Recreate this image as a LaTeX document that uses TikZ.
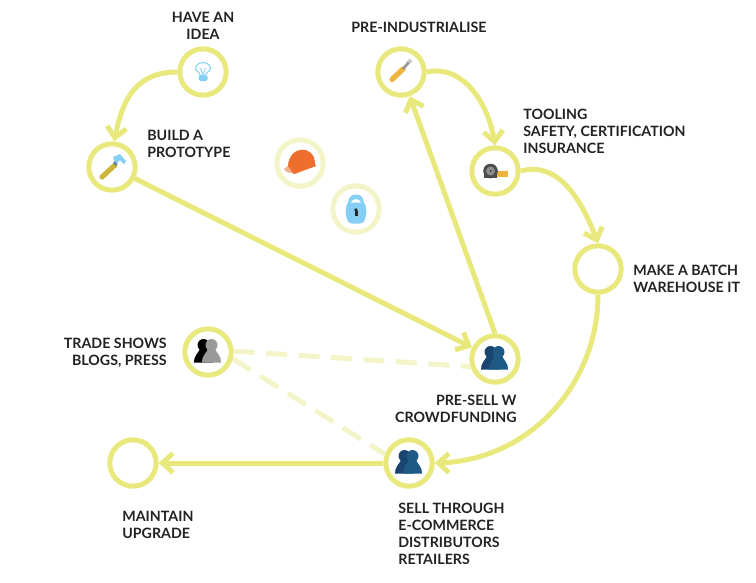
\documentclass[tikz,border=0pt]{standalone}
\usepackage{fontspec}
\setmainfont{Lato}
\usetikzlibrary{arrows.meta, bending}
\definecolor{ringyellow}{HTML}{E8E87C}
\definecolor{ringpale}{HTML}{F3F4C8}
\definecolor{inkdark}{HTML}{222222}
\definecolor{skyblue}{HTML}{85CFF5}
\definecolor{steelblue}{HTML}{1F5A85}
\definecolor{deepblue}{HTML}{1A4570}
\definecolor{helmetorange}{HTML}{EE6F2D}
\definecolor{toolgold}{HTML}{CDB53A}
\definecolor{tapegold}{HTML}{EFB43C}
\tikzset{
  pics/bulb/.style={code={
    \draw[skyblue, line width=0.6pt] (-2.5,4) .. controls (-3,0) and (-7.5,-1) .. (-7.5,-3) .. controls (-7.5,-11.5) and (7.5,-11.5) .. (7.5,-3) .. controls (7.5,-1) and (3,0) .. (2.5,4);
    \draw[skyblue, line width=0.5pt] (-2.5,-4) -- (0,3) -- (2.5,-4);
    \fill[skyblue, rounded corners=1pt] (-4.5,3) rectangle (4.5,9);
  }},
  pics/hammer/.style={code={
    \draw[toolgold, line width=2.9pt, line cap=round] (-10,10) -- (3,-2);
    \fill[skyblue] (1,-10) -- (8,-13) -- (14,-6) -- (12,-3) -- (8,-7) -- (5,-4) -- (2,-7) -- cycle;
    \fill[steelblue!70] (2.5,-6) -- (5.5,-3.5) -- (4,-1) -- (1,-3.5) -- cycle;
  }},
  pics/screwdriver/.style={code={
    \draw[tapegold, line width=3pt, line cap=round] (-9,7.5) -- (2,-3);
    \draw[gray!80, line width=1.6pt] (2,-3) -- (8,-10);
    \draw[gray!40, line width=2.4pt] (8,-10) -- (10,-12);
  }},
  pics/tape/.style={code={
    \fill[tapegold] (2,0) rectangle (13,6);
    \fill[black!70] (-4.5,0) circle (7.3);
    \fill[black!70] (-11.5,1) rectangle (2,7);
    \fill[black!45] (-4.5,0) circle (4.5);
    \fill[black!80] (-4.5,0) circle (1);
  }},
  pics/helmet/.style={code={
    \fill[helmetorange!55] (-16,6) -- (-10,1) -- (-3,11) -- (-9,10) .. controls (-12,10) and (-14,9) .. (-16,6) -- cycle;
    \fill[helmetorange] (-12,3) .. controls (-11,-18) and (15,-19) .. (15,1) -- (16,3) .. controls (8,6) and (0,9) .. (-6,11) .. controls (-9,8) and (-10,5) .. (-12,3) -- cycle;
  }},
  pics/padlock/.style={code={
    \fill[skyblue] (0,-14.5) .. controls (7,-14.5) and (7.5,-9) .. (8,-6) .. controls (12,-2) and (11,14.5) .. (4,14.5) -- (-4,14.5) .. controls (-11,14.5) and (-12,-2) .. (-8,-6) .. controls (-7.5,-9) and (-7,-14.5) .. (0,-14.5) -- cycle;
    \fill[white] (-5,-6.5) .. controls (-3,-11) and (3,-11) .. (5,-6.5) -- cycle;
    \fill[black!85] (0,1) circle (1.8);
    \fill[black!85] (-1.5,2) rectangle (1.5,7);
  }},
  pics/people/.style 2 args={code={
    \foreach \dx/\shade in {-4.5/#1, 3.5/#2} {
      \fill[\shade] (\dx,-7) circle (6);
      \fill[\shade] (\dx-9.5,10.5) .. controls (\dx-10,4) and (\dx-5,1) .. (\dx-3,-4) -- (\dx+3,-4) .. controls (\dx+5,1) and (\dx+10,4) .. (\dx+9.5,10.5) -- cycle;
    }
  }},
}
\begin{document}
\begin{tikzpicture}[
    x=0.02cm, y=-0.02cm,
    stage/.style={circle, draw=#1, line width=2.85pt, minimum size=0.928cm, inner sep=0pt},
    stage/.default=ringyellow,
    flow/.style={ringyellow, line width=2.85pt, -{Straight Barb[length=6pt,width=11pt,flex=0]}},
    hint/.style={ringpale, line width=2.85pt, dash pattern=on 12pt off 6.5pt},
    caption/.style={text=inkdark, inner sep=0pt, font=\bfseries\fontsize{8.1}{9.7}\selectfont}
]
\useasboundingbox (0,0) rectangle (756,582);

% Stages
\node[stage] (idea) at (203,72) {};
\node[stage] (proto) at (112,167) {};
\node[stage] (preind) at (401,72) {};
\node[stage] (tooling) at (495,171) {};
\node[stage] (batch) at (598,269) {};
\node[stage] (presell) at (495,359) {};
\node[stage] (trade) at (208,352) {};
\node[stage] (sell) at (409,463) {};
\node[stage] (maintain) at (133,463) {};
\node[stage=ringpale] (helmet) at (300,163) {};
\node[stage=ringpale] (lock) at (356,209) {};

% Icons
\pic at (idea) {bulb};
\pic at (proto) {hammer};
\pic at (preind) {screwdriver};
\pic at (tooling) {tape};
\pic at (helmet) {helmet};
\pic at (lock) {padlock};
\pic at (presell) {people={deepblue}{steelblue}};
\pic at (sell) {people={deepblue}{steelblue}};
\pic at (trade) {people={black}{gray!80}};

% Main route
\draw[flow] (idea.west) to[out=180, in=80, looseness=1.15] (proto.85);
\draw[flow] (proto) -- (presell);
\draw[flow] (presell.north) -- (preind);
\draw[flow] (preind.east) to[out=12, in=97] (tooling.north);
\draw[flow] (tooling.east) to[out=15, in=110] (batch.north);
\draw[flow] (batch.south) to[out=-90, in=0] (sell.east);
\draw[flow] (sell.west) -- (maintain.east);

% Secondary route
\draw[hint] (trade.2) -- (presell.197);
\draw[hint] (trade.-15) -- (sell.160);

% Labels
\node[caption, align=center] (ideatext) at (203,25.5) {HAVE AN\\IDEA};
\node[caption, align=left, anchor=west] (prototext) at (147,143.5) {BUILD A\\PROTOTYPE};
\node[caption, anchor=west] (preindtext) at (351,27.5) {PRE-INDUSTRIALISE};
\node[caption, align=left, anchor=west] (toolingtext) at (523,131.5) {TOOLING\\SAFETY, CERTIFICATION\\INSURANCE};
\node[caption, align=left, anchor=west] (batchtext) at (633,278.5) {MAKE A BATCH\\WAREHOUSE IT};
\node[caption, align=right, anchor=east] (tradetext) at (167,352.5) {TRADE SHOWS\\BLOGS, PRESS};
\node[caption, align=right, anchor=east] (preselltext) at (517,408.5) {PRE-SELL W\\CROWDFUNDING};
\node[caption, align=left, anchor=west] (selltext) at (398,533.5) {SELL THROUGH\\E-COMMERCE\\DISTRIBUTORS\\RETAILERS};
\node[caption, align=left, anchor=west] (maintaintext) at (122,524.5) {MAINTAIN\\UPGRADE};

\end{tikzpicture}
\end{document}
